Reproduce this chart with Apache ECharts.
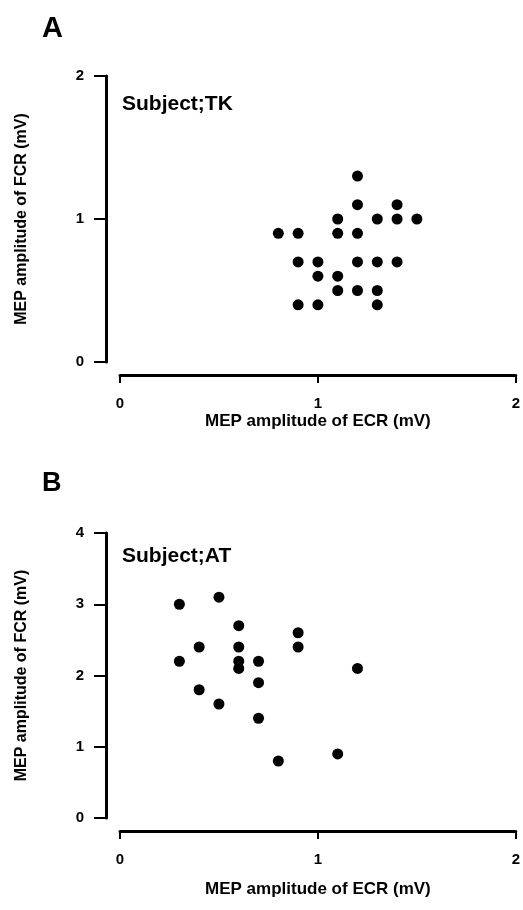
<!DOCTYPE html>
<html>
<head>
<meta charset="utf-8">
<script src="https://cdn.jsdelivr.net/npm/echarts@6/dist/echarts.min.js"></script>
<style>
html,body{margin:0;padding:0;background:#fff;}
#c{width:523px;height:910px;}
</style>
</head>
<body>
<div id="c"></div>
<script>
// Panel A (Subject;TK)
const ecrA = [1.2,1.2,1.4,1.1,1.3,1.4,1.5,0.8,0.9,1.1,1.2,0.9,1.0,1.2,1.3,1.4,1.0,1.1,1.1,1.2,1.3,0.9,1.0,1.3];
const fcrA = [1.3,1.1,1.1,1.0,1.0,1.0,1.0,0.9,0.9,0.9,0.9,0.7,0.7,0.7,0.7,0.7,0.6,0.6,0.5,0.5,0.5,0.4,0.4,0.4];
// Panel B (Subject;AT)
const ecrB = [0.3,0.5,0.6,0.9,0.4,0.6,0.9,0.3,0.6,0.6,0.7,1.2,0.7,0.4,0.5,0.7,0.8,1.1];
const fcrB = [3.0,3.1,2.7,2.6,2.4,2.4,2.4,2.2,2.2,2.1,2.2,2.1,1.9,1.8,1.6,1.4,0.8,0.9];
const xTicks = [0,1,2];
const yTicksA = [0,1,2];
const yTicksB = [0,1,2,3,4];
const xName = 'MEP amplitude of ECR (mV)';
const yName = 'MEP amplitude of FCR (mV)';

const FONT = '"Liberation Sans", Arial, Helvetica, sans-serif';
const chart = echarts.init(document.getElementById('c'), null, {renderer:'canvas'});

function xAxisCfg(gi, gap){
  return {
    gridIndex: gi, type:'value', min: xTicks[0], max: xTicks[xTicks.length-1], interval: 1,
    offset: 13,
    name: xName, nameLocation:'middle', nameGap: gap,
    nameTextStyle:{fontFamily:FONT, fontWeight:'bold', fontSize:17, color:'#000'},
    axisLine:{show:true, onZero:false, lineStyle:{color:'#000', width:3}},
    axisTick:{show:true, length:8, lineStyle:{color:'#000', width:2}},
    axisLabel:{fontFamily:FONT, fontWeight:'bold', fontSize:15, color:'#000', margin:21},
    splitLine:{show:false}
  };
}
function yAxisCfg(gi, ticks){
  return {
    gridIndex: gi, type:'value', min: ticks[0], max: ticks[ticks.length-1], interval: 1,
    offset: 14,
    name: yName, nameLocation:'middle', nameGap: 76, nameRotate: 90,
    nameTextStyle:{fontFamily:FONT, fontWeight:'bold', fontSize:16, color:'#000'},
    axisLine:{show:true, onZero:false, lineStyle:{color:'#000', width:3}},
    axisTick:{show:true, length:12, lineStyle:{color:'#000', width:2}},
    axisLabel:{fontFamily:FONT, fontWeight:'bold', fontSize:15, color:'#000', margin:22},
    splitLine:{show:false}
  };
}

chart.setOption({
  backgroundColor:'#fff',
  animation:false,
  grid:[
    {left:120, right:7, top:76, height:286},
    {left:120, right:7, top:533, height:285}
  ],
  xAxis:[xAxisCfg(0, 38), xAxisCfg(1, 50)],
  yAxis:[yAxisCfg(0, yTicksA), yAxisCfg(1, yTicksB)],
  series:[
    {type:'scatter', xAxisIndex:0, yAxisIndex:0, symbol:'circle', symbolSize:11,
     itemStyle:{color:'#000', opacity:1}, data: ecrA.map((v,i)=>[v, fcrA[i]])},
    {type:'scatter', xAxisIndex:1, yAxisIndex:1, symbol:'circle', symbolSize:11,
     itemStyle:{color:'#000', opacity:1}, data: ecrB.map((v,i)=>[v, fcrB[i]])}
  ],
  graphic:[
    {type:'text', left:42, top:14, style:{text:'A', font:'bold 29px '+FONT, fill:'#000'}},
    {type:'text', left:42, top:470, style:{text:'B', font:'bold 27px '+FONT, fill:'#000'}},
    {type:'text', left:122, top:94, style:{text:'Subject;TK', font:'bold 21px '+FONT, fill:'#000'}},
    {type:'text', left:122, top:546, style:{text:'Subject;AT', font:'bold 21px '+FONT, fill:'#000'}}
  ]
});
</script>
</body>
</html>
